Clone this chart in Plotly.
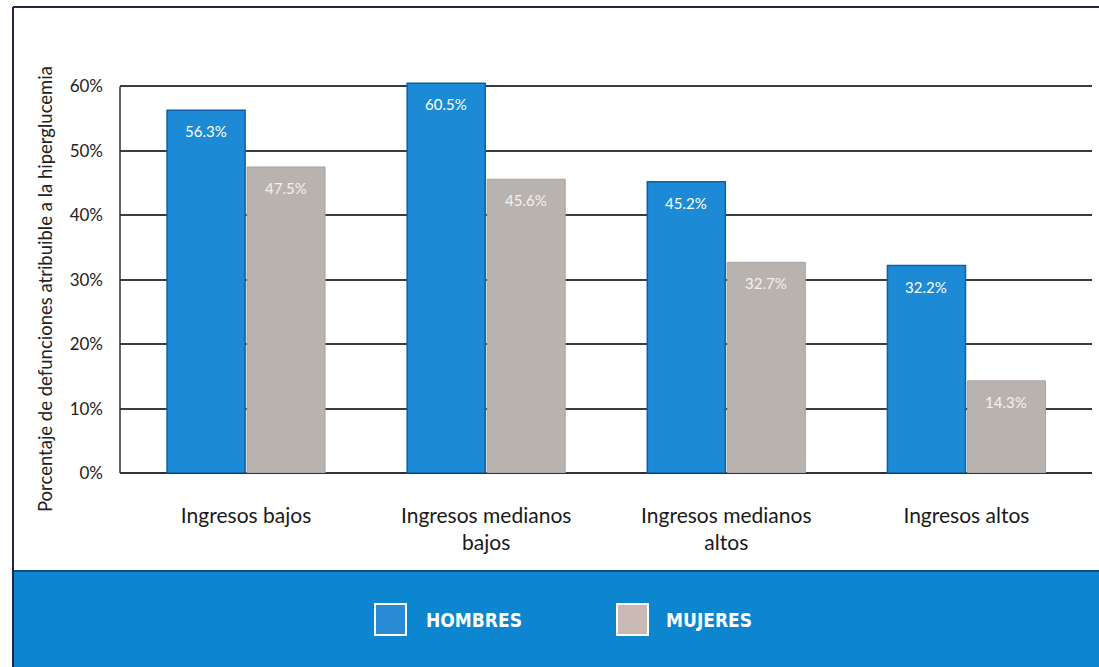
import plotly.graph_objects as go

categories = ["Ingresos bajos", "Ingresos medianos<br>bajos", "Ingresos medianos<br>altos", "Ingresos altos"]
hombres = [56.3, 60.5, 45.2, 32.2]
mujeres = [47.5, 45.6, 32.7, 14.3]
y_ticks = [0, 10, 20, 30, 40, 50, 60]
y_ticktext = ["0%", "10%", "20%", "30%", "40%", "50%", "60%"]
series_names = ["HOMBRES", "MUJERES"]

W, H = 1099, 667
BLUE = "#1d8ad5"
BLUE_EDGE = "#0d5fa8"
GRAY = "#b9b3af"
GRAY_EDGE = "#a8a29e"
BAND = "#0b86cf"
FONT = "Lato, 'Open Sans', sans-serif"

def px(x):
    return x / W

def py(y):
    return 1 - y / H

xpos = list(range(len(categories)))
bw = 0.325
gap = 0.008

fig = go.Figure()
fig.add_trace(go.Bar(
    x=xpos, y=hombres, name=series_names[0], width=bw, offset=-bw - gap / 2,
    marker=dict(color=BLUE, line=dict(color=BLUE_EDGE, width=1.5)),
))
fig.add_trace(go.Bar(
    x=xpos, y=mujeres, name=series_names[1], width=bw, offset=gap / 2,
    marker=dict(color=GRAY, line=dict(color=GRAY_EDGE, width=1)),
))

annotations = []
for i, v in enumerate(hombres):
    annotations.append(dict(x=i - bw / 2 - gap / 2, y=v, xref="x", yref="y", text=f"{v}%",
                            showarrow=False, yshift=-21, font=dict(family=FONT, size=15, color="white")))
for i, v in enumerate(mujeres):
    annotations.append(dict(x=i + bw / 2 + gap / 2, y=v, xref="x", yref="y", text=f"{v}%",
                            showarrow=False, yshift=-21, font=dict(family=FONT, size=15, color="#f4f1ee")))

# y-axis title
annotations.append(dict(x=px(45), y=py(289), xref="paper", yref="paper",
                        xanchor="center", yanchor="middle",
                        text="Porcentaje de defunciones atribuible a la hiperglucemia",
                        textangle=-90, showarrow=False,
                        font=dict(family=FONT, size=18.5, color="#222")))

shapes = []
# outer frame
shapes.append(dict(type="line", xref="paper", yref="paper", x0=px(13), x1=px(1099), y0=py(7), y1=py(7),
                   line=dict(color="#1f2548", width=2)))
shapes.append(dict(type="line", xref="paper", yref="paper", x0=px(13), x1=px(13), y0=py(7), y1=py(667),
                   line=dict(color="#1f2548", width=2)))
# bottom band
shapes.append(dict(type="rect", xref="paper", yref="paper", x0=px(14), x1=px(1099), y0=py(667), y1=py(571),
                   fillcolor=BAND, line=dict(width=0), layer="below"))
shapes.append(dict(type="line", xref="paper", yref="paper", x0=px(14), x1=px(1099), y0=py(571), y1=py(571),
                   line=dict(color="#0b4f8a", width=2)))
# left axis line (0..60)
shapes.append(dict(type="line", xref="paper", yref="y", x0=px(120), x1=px(120), y0=0, y1=60,
                   line=dict(color="#333", width=1.5)))

# custom legend
legend_items = [(375, series_names[0], "#2a8ad6", 424), (617, series_names[1], "#c9b9b4", 664)]
for x0, name, col, tx in legend_items:
    shapes.append(dict(type="rect", xref="paper", yref="paper", x0=px(x0), x1=px(x0 + 31),
                       y0=py(635), y1=py(604), fillcolor=col, line=dict(color="white", width=2)))
    annotations.append(dict(x=px(tx), y=py(620), xref="paper", yref="paper", text=f"<b>{name}</b>",
                            xanchor="left", yanchor="middle", showarrow=False,
                            font=dict(family="'DejaVu Sans Condensed', sans-serif",
                                      size=19, color="white")))

fig.update_layout(
    template="none",
    width=W, height=H,
    margin=dict(l=0, r=0, t=0, b=0, pad=0),
    paper_bgcolor="white", plot_bgcolor="white",
    showlegend=False,
    barmode="overlay",
    xaxis=dict(domain=[px(120), px(1092)], range=[-0.525, 3.523], automargin=False,
               tickmode="array", tickvals=xpos, ticktext=categories,
               tickfont=dict(family=FONT, size=21, color="#1a1a1a"),
               showgrid=False, zeroline=False, showline=False, ticks="", ticklen=0,
               ticklabelstandoff=28, fixedrange=True),
    yaxis=dict(domain=[py(473), py(80)], range=[0, 61], automargin=False,
               tickmode="array", tickvals=y_ticks, ticktext=y_ticktext,
               tickfont=dict(family=FONT, size=17, color="#222"),
               showgrid=True, gridcolor="#3c3c3c", gridwidth=1.5,
               zeroline=True, zerolinecolor="#333", zerolinewidth=2,
               showline=False, ticks="", ticklabelstandoff=16),
    shapes=shapes,
    annotations=annotations,
)

fig.write_html("out.html")
